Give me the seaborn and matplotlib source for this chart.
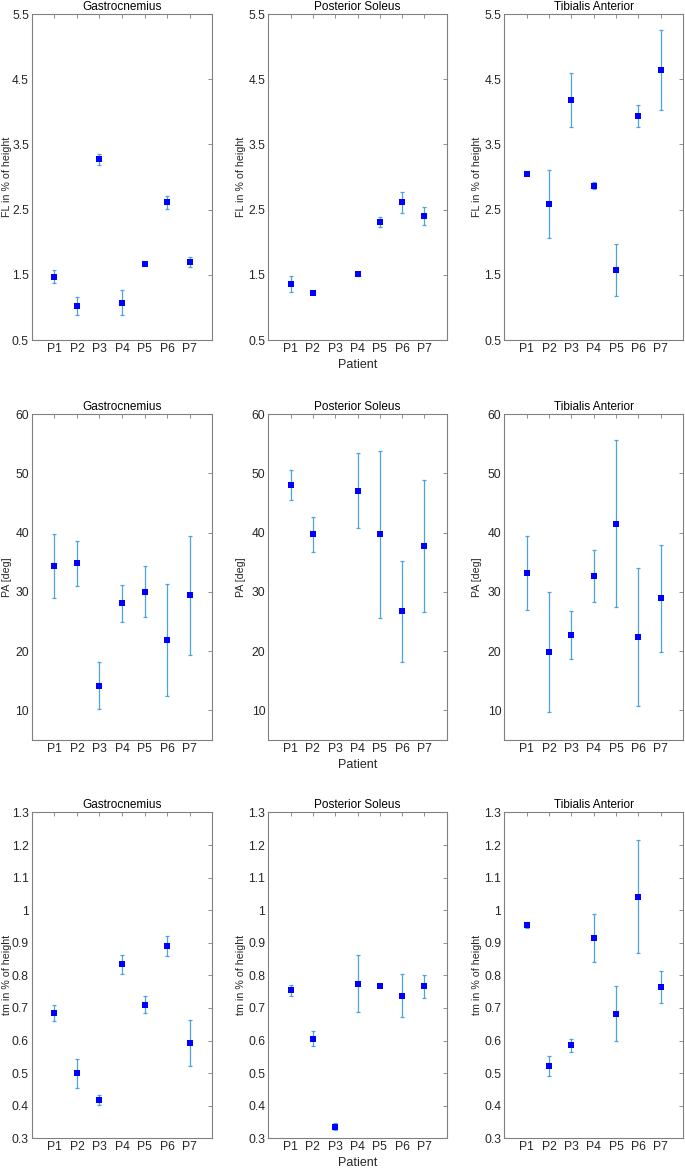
import numpy as np
import pandas as pd
import seaborn as sns
from matplotlib import pyplot as plt
from matplotlib.ticker import FormatStrFormatter

patients = ['P1', 'P2', 'P3', 'P4', 'P5', 'P6', 'P7']
muscles = ['Gastrocnemius', 'Posterior Soleus', 'Tibialis Anterior']

# Fascicle length (FL) in % of height: mean and error
fl_gas = [1.47, 1.02, 3.27, 1.07, 1.67, 2.61, 1.70]
fl_gas_err = [0.10, 0.14, 0.09, 0.19, 0.02, 0.10, 0.08]
fl_sol = [1.36, 1.22, np.nan, 1.51, 2.31, 2.61, 2.40]
fl_sol_err = [0.12, 0.01, np.nan, 0.03, 0.08, 0.16, 0.135]
fl_tib = [3.05, 2.59, 4.18, 2.87, 1.58, 3.94, 4.64]
fl_tib_err = [0.01, 0.52, 0.41, 0.05, 0.40, 0.17, 0.61]

# Pennation angle (PA) in degrees
pa_gas = [34.3, 34.8, 14.2, 28.1, 30.0, 21.9, 29.4]
pa_gas_err = [5.4, 3.75, 3.9, 3.15, 4.3, 9.5, 10.05]
pa_sol = [48.0, 39.7, np.nan, 47.1, 39.7, 26.7, 37.7]
pa_sol_err = [2.5, 2.9, np.nan, 6.35, 14.1, 8.5, 11.15]
pa_tib = [33.2, 19.8, 22.7, 32.75, 41.5, 22.4, 28.9]
pa_tib_err = [6.3, 10.15, 4.0, 4.4, 14.1, 11.6, 9.0]

# Muscle thickness (tm) in % of height
tm_gas = [0.684, 0.499, 0.418, 0.834, 0.710, 0.890, 0.592]
tm_gas_err = [0.025, 0.044, 0.015, 0.030, 0.027, 0.030, 0.071]
tm_sol = [0.754, 0.606, 0.336, 0.775, 0.768, 0.737, 0.766]
tm_sol_err = [0.017, 0.023, 0.010, 0.086, 0.004, 0.066, 0.034]
tm_tib = [0.955, 0.522, 0.586, 0.915, 0.682, 1.042, 0.765]
tm_tib_err = [0.009, 0.032, 0.020, 0.073, 0.084, 0.172, 0.049]

rows = [
    dict(ylabel='FL in % of height', ylim=(0.5, 5.5), yticks=np.arange(0.5, 5.6, 1.0),
         series=[(fl_gas, fl_gas_err), (fl_sol, fl_sol_err), (fl_tib, fl_tib_err)], fmt='%.1f'),
    dict(ylabel='PA [deg]', ylim=(5, 60), yticks=np.arange(10, 61, 10),
         series=[(pa_gas, pa_gas_err), (pa_sol, pa_sol_err), (pa_tib, pa_tib_err)], fmt='%g'),
    dict(ylabel='tm in % of height', ylim=(0.3, 1.3), yticks=np.arange(0.3, 1.31, 0.1),
         series=[(tm_gas, tm_gas_err), (tm_sol, tm_sol_err), (tm_tib, tm_tib_err)], fmt='%g'),
]

sns.set_style('white')
plt.rcParams['font.family'] = ['Liberation Sans', 'DejaVu Sans']

fig = plt.figure(figsize=(6.85, 11.7), dpi=100)

col_left = [0.0467, 0.3917, 0.7362]
col_width = [0.2628, 0.2604, 0.2609]
row_bottom = [0.7094, 0.3675, 0.0271]
row_height = 0.2785
label_x = [-0.11, -0.125, -0.125]

edge = '#808080'
txt = '#262626'
bar_color = '#4da3e0'

for r, row in enumerate(rows):
    for c, muscle in enumerate(muscles):
        ax = fig.add_axes([col_left[c], row_bottom[r], col_width[c], row_height])
        mean, err = row['series'][c]
        df = pd.DataFrame({'pos': np.arange(1, 8), 'patient': patients,
                           'mean': mean, 'err': err})
        ax.errorbar(df['pos'], df['mean'], yerr=df['err'], fmt='none',
                    ecolor=bar_color, elinewidth=0.9, capsize=1.6, capthick=0.9)
        sns.scatterplot(data=df, x='pos', y='mean', marker='s', color='#0000ff',
                        s=17, linewidth=0, ax=ax, zorder=3)
        ax.set_xlim(0, 8)
        ax.set_ylim(*row['ylim'])
        ax.set_xticks(range(1, 8))
        ax.set_xticklabels(patients)
        ax.set_yticks(row['yticks'])
        ax.yaxis.set_major_formatter(FormatStrFormatter(row['fmt']))
        ax.tick_params(direction='in', length=3, width=0.6, color=edge,
                       top=True, right=True, labelsize=8.7, labelcolor=txt, pad=2.2)
        for sp in ax.spines.values():
            sp.set_color(edge)
            sp.set_linewidth(0.8)
        ax.set_title(muscle, fontsize=8.5, color='black', pad=3)
        ax.set_ylabel(row['ylabel'], fontsize=7.7, color=txt)
        ax.yaxis.set_label_coords(label_x[c], 0.5)
        if c == 1:
            ax.set_xlabel('Patient', fontsize=9, color=txt, labelpad=2.5)
        else:
            ax.set_xlabel('')

plt.savefig('out.png', dpi=100)
